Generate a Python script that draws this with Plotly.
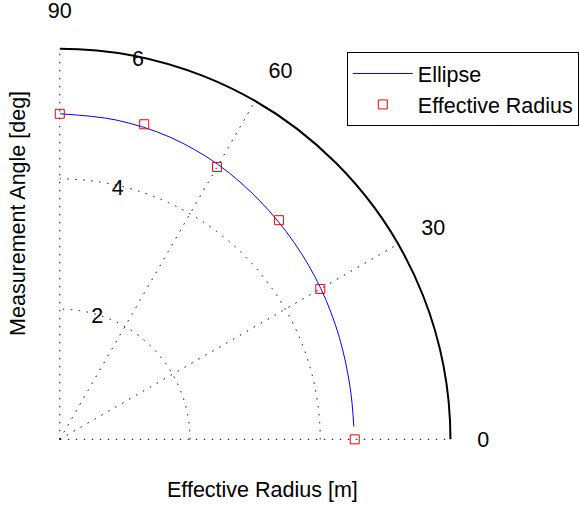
import plotly.graph_objects as go

# Ellipse curve
ellipse_theta = [2.5, 10, 20, 30, 40, 50, 60, 70, 80, 90]
ellipse_r = [4.52, 4.53, 4.57, 4.63, 4.70, 4.78, 4.87, 4.94, 4.98, 5.00]

# Effective radius measurements
meas_theta = [0, 30, 45, 60, 75, 90]
meas_r = [4.53, 4.62, 4.76, 4.83, 5.01, 5.00]

radial_ticks = [2, 4, 6]
angle_ticks = [0, 30, 60, 90]
outer_ring = [6]

FONT = "Liberation Sans, Arial, Helvetica, sans-serif"
FS = 21.5
W, H = 579, 506
X0, Y0, R6 = 60, 440, 392          # origin and radius of r=6 in pixels
RMAX2 = 6.2                         # range of the overlay subplot drawing the outer arc
R2 = R6 * RMAX2 / 6
DOM = dict(x=[X0 / W, (X0 + R6) / W], y=[(H - Y0) / H, (H - Y0 + R6) / H])
DOM2 = dict(x=[X0 / W, (X0 + R2) / W], y=[(H - Y0) / H, (H - Y0 + R2) / H])
DOTS = "1.5px,6.5px"

fig = go.Figure()
fig.add_trace(go.Scatterpolar(
    r=ellipse_r, theta=ellipse_theta, mode="lines", name="Ellipse",
    line=dict(color="#0000ff", width=1, shape="spline"),
))
fig.add_trace(go.Scatterpolar(
    r=meas_r, theta=meas_theta, mode="markers", name="Effective Radius",
    marker=dict(symbol="square-open", color="#ff0000", size=9, line=dict(width=1, color="#ff0000")),
))
# overlay subplot only carries the solid outer arc (its gridline at r=6)
fig.add_trace(go.Scatterpolar(r=[], theta=[], subplot="polar2", showlegend=False, hoverinfo="skip"))

fig.update_layout(
    width=W, height=H,
    margin=dict(l=0, r=0, t=0, b=0),
    paper_bgcolor="white",
    font=dict(family=FONT, size=FS, color="black"),
    polar=dict(
        domain=DOM,
        sector=[0, 90],
        bgcolor="rgba(0,0,0,0)",
        radialaxis=dict(
            range=[0, 6], tickvals=radial_ticks, showline=False,
            angle=81, side="clockwise", ticks="", tickangle=81,
            showgrid=True, gridcolor="black", griddash=DOTS, gridwidth=1,
            tickfont=dict(size=FS),
        ),
        angularaxis=dict(
            rotation=0, direction="counterclockwise",
            tickvals=angle_ticks, ticks="outside", ticklen=22,
            tickcolor="rgba(0,0,0,0)",
            showline=False,
            showgrid=True, gridcolor="black", griddash=DOTS, gridwidth=1,
            tickfont=dict(size=FS),
        ),
    ),
    polar2=dict(
        domain=DOM2,
        sector=[0, 90],
        bgcolor="rgba(0,0,0,0)",
        radialaxis=dict(
            range=[0, RMAX2], tickvals=outer_ring, showline=False, showticklabels=False,
            ticks="", showgrid=True, gridcolor="black", gridwidth=2,
        ),
        angularaxis=dict(
            tickvals=angle_ticks, showline=False, showgrid=False,
            showticklabels=False, ticks="",
        ),
    ),
    legend=dict(
        x=348 / W, y=1 - 52 / H, xanchor="left", yanchor="top",
        bordercolor="black", borderwidth=1, bgcolor="white",
        font=dict(size=FS), tracegroupgap=0, itemwidth=60,
    ),
    showlegend=True,
    annotations=[
        dict(text="Effective Radius [m]", xref="paper", yref="paper",
             x=263 / W, y=1 - 490 / H, xanchor="center", yanchor="middle",
             showarrow=False, font=dict(size=FS)),
        dict(text="Measurement Angle [deg]", xref="paper", yref="paper",
             x=18 / W, y=1 - 213 / H, xanchor="center", yanchor="middle",
             showarrow=False, textangle=-90, font=dict(size=FS)),
    ],
)

fig.write_html("out.html", config={"displayModeBar": False},
               post_script="document.body.style.margin='0';")
